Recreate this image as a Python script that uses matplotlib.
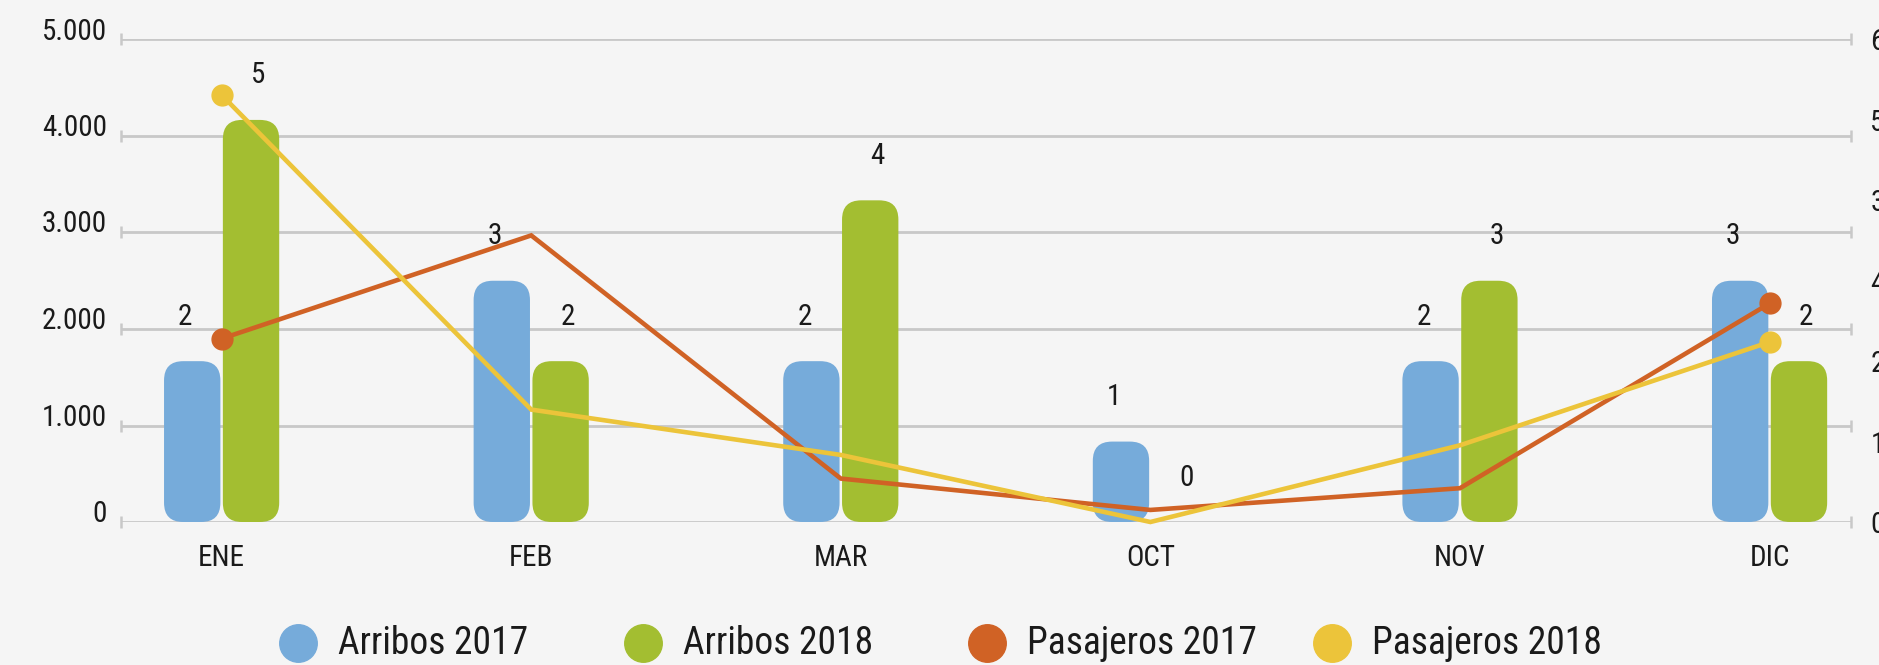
import matplotlib
matplotlib.use('Agg')
import matplotlib.pyplot as plt
from matplotlib.patches import FancyBboxPatch
from matplotlib.lines import Line2D
from matplotlib.transforms import ScaledTranslation
from matplotlib import font_manager
import numpy as np

# datos
months = ['ENE', 'FEB', 'MAR', 'OCT', 'NOV', 'DIC']
arribos_2017 = [2, 3, 2, 1, 2, 3]
arribos_2018 = [5, 2, 4, 0, 3, 2]
pasajeros_2017 = [1900, 2970, 450, 125, 350, 2265]
pasajeros_2018 = [4425, 1165, 695, 0, 795, 1865]

left_ticks = [0, 1000, 2000, 3000, 4000, 5000]
left_labels = ['0', '1.000', '2.000', '3.000', '4.000', '5.000']
right_ticks = [0, 1, 2, 3, 4, 5, 6]
right_labels = ['0', '1', '2', '4', '3', '5', '6']
legend_labels = ['Arribos 2017', 'Arribos 2018', 'Pasajeros 2017', 'Pasajeros 2018']

bg = '#f5f5f5'
grid_c = '#c8c8c8'
c_blue = '#76abda'
c_green = '#a3be31'
c_orange = '#d06225'
c_yellow = '#ecc43a'
txt_c = '#1a1a1a'

# condensed face if there is one, Roboto otherwise
names = {f.name for f in font_manager.fontManager.ttflist}
condensed = 'Roboto Condensed' in names or 'Liberation Sans Narrow' in names
plt.rcParams['font.family'] = ['Roboto Condensed', 'Liberation Sans Narrow', 'Roboto', 'DejaVu Sans']
leg_fs = 27 if condensed else 24

W, H = 1879, 665
fig = plt.figure(figsize=(W / 100, H / 100), dpi=100, facecolor=bg)
ax_rect = [121 / W, (H - 522) / H, (1851 - 121) / W, (522 - 39.5) / H]
ax = fig.add_axes(ax_rect)
ax2 = ax.twinx()
ax.set_zorder(2)
ax2.set_zorder(1)
ax.patch.set_visible(False)
ax2.patch.set_visible(False)

x = np.arange(len(months))
xmin, xmax = -0.325, 5.263
ax.set_xlim(xmin, xmax)
ax.set_ylim(0, 5000)
ax2.set_ylim(0, 6)

for a in (ax, ax2):
    for s in a.spines.values():
        s.set_visible(False)

# grid lines (left axis scale) behind bars
ytr = ax.get_yaxis_transform()
ax2.hlines(left_ticks, 0, 1, transform=ytr, colors=grid_c, lw=2.0, zorder=0)
for xe in (0, 1):
    ax2.plot([xe] * len(left_ticks), left_ticks, transform=ytr, ls='none',
             marker='|', ms=9, mew=1.8, color=grid_c, clip_on=False, zorder=0)

# rounded bars on right axis
bw = 0.182
off = 0.095
r = 0.062
ax_w_px = ax_rect[2] * W
ax_h_px = ax_rect[3] * H
aspect = (6 / ax_h_px) / ((xmax - xmin) / ax_w_px)

for vals, sign, col in ((arribos_2017, -1, c_blue), (arribos_2018, 1, c_green)):
    for i, v in enumerate(vals):
        xc = x[i] + sign * off
        if v > 0:
            p = FancyBboxPatch((xc - bw / 2, 0), bw, v,
                               boxstyle=f"round,pad=0,rounding_size={r}",
                               mutation_aspect=aspect, fc=col, ec='none', zorder=2)
            ax2.add_patch(p)
        ax2.annotate(str(v), (xc, v), xytext=(sign * 5, 32), textcoords='offset points',
                     ha='center', va='center', fontsize=21, color=txt_c)

# lines on left axis
ax.plot(x, pasajeros_2017, color=c_orange, lw=3.3, marker='o', ms=15,
        markevery=[0, len(x) - 1], solid_joinstyle='miter', clip_on=False, zorder=3)
ax.plot(x, pasajeros_2018, color=c_yellow, lw=3.3, marker='o', ms=15,
        markevery=[0, len(x) - 1], solid_joinstyle='miter', clip_on=False, zorder=4)

# ticks
ax.set_xticks(x, months)
ax.tick_params(axis='x', length=0, pad=16, labelsize=21, labelcolor=txt_c)
ax.set_yticks(left_ticks, left_labels)
ax.tick_params(axis='y', length=0, pad=10, labelsize=21, labelcolor=txt_c)
for lbl in ax.get_yticklabels():
    lbl.set_transform(lbl.get_transform() + ScaledTranslation(0, 11 / 100, fig.dpi_scale_trans))
ax2.set_yticks(right_ticks, right_labels)
ax2.tick_params(axis='y', length=0, pad=14, labelsize=21, labelcolor=txt_c)

# legend
leg_cols = [c_blue, c_green, c_orange, c_yellow]
leg_x = [298, 643, 987, 1332]
leg_y = (H - 643) / H
for lx, col, lab in zip(leg_x, leg_cols, legend_labels):
    fig.add_artist(Line2D([lx / W], [leg_y], transform=fig.transFigure, ls='none',
                          marker='o', ms=27, color=col))
    fig.text((lx + 40) / W, leg_y, lab, ha='left', va='center', fontsize=leg_fs, color=txt_c)

fig.savefig('out.png', dpi=100, facecolor=bg)
